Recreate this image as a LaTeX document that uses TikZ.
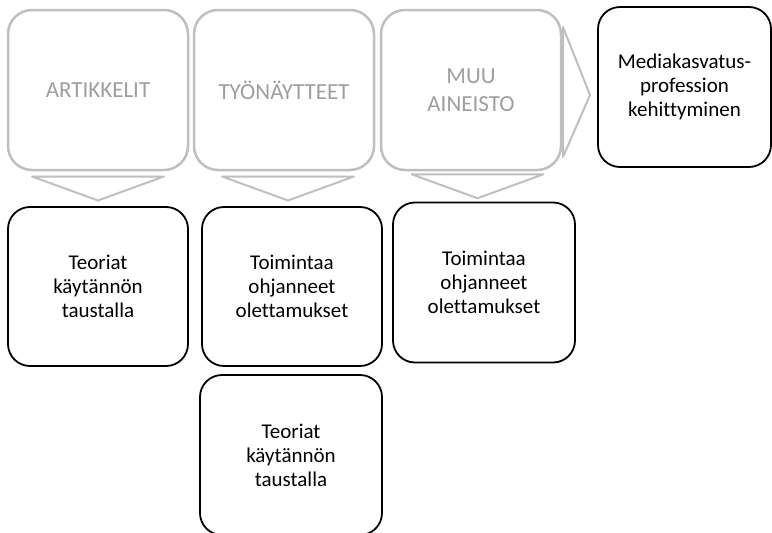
\documentclass[tikz,border=0pt]{standalone}
\usepackage{fontspec}
\setmainfont[Ligatures=NoCommon]{Carlito}
\usetikzlibrary{positioning,calc}

\begin{document}
\begin{tikzpicture}[
    x=1pt, y=1pt,
    node distance=6pt,
    source/.style={rectangle, rounded corners=24pt, draw=black!25, line width=2.5pt, outer sep=0pt, minimum width=180pt, minimum height=160pt, align=center, text=black!38, font=\fontsize{23}{28}\selectfont},
    result/.style={rectangle, rounded corners=22pt, draw=black, line width=1.8pt, outer sep=0pt, minimum width=180pt, minimum height=160pt, align=center, font=\fontsize{21}{24}\selectfont},
    chev/.style={draw=black!25, line width=2pt, line join=round, fill=white}
]
    \useasboundingbox (0,0) rectangle (772,-533);

    \node[source] (art) at (98,-90) {ARTIKKELIT};
    \node[source, right=6pt of art] (tyo) {TYÖNÄYTTEET};
    \node[source, right=7pt of tyo] (muu) {MUU\\AINEISTO};
    \node[result, minimum width=173pt, right=37pt of muu, yshift=3pt] (media) {Mediakasvatus-\\profession\\kehittyminen};

    \node[result, minimum height=159pt, below=37pt of art] (b1) {Teoriat\\käytännön\\taustalla};
    \node[result, minimum height=159pt, right=14pt of b1] (b2) {Toimintaa\\ohjanneet\\olettamukset};
    \node[result, minimum width=182pt, right=11pt of b2, yshift=4pt] (b3) {Toimintaa\\ohjanneet\\olettamukset};
    \node[result, minimum width=182pt, below=9pt of b2, xshift=-1pt] (b4) {Teoriat\\käytännön\\taustalla};

    % chevrons between the rows
    \foreach \up/\low in {art/b1, tyo/b2, muu/b3} {
        \coordinate (c) at ($(\up.south)!0.5!(\low.north)$);
        \draw[chev] ($(c)+(-66,12)$) -- ($(c)+(66,12)$) -- ($(c)+(0,-12)$) -- cycle;
    }
    \draw[chev] ($(muu.east)+(2,63)$) -- ($(muu.east)+(2,-67)$) -- ($(muu.east)+(29,-5)$) -- cycle;
\end{tikzpicture}
\end{document}
